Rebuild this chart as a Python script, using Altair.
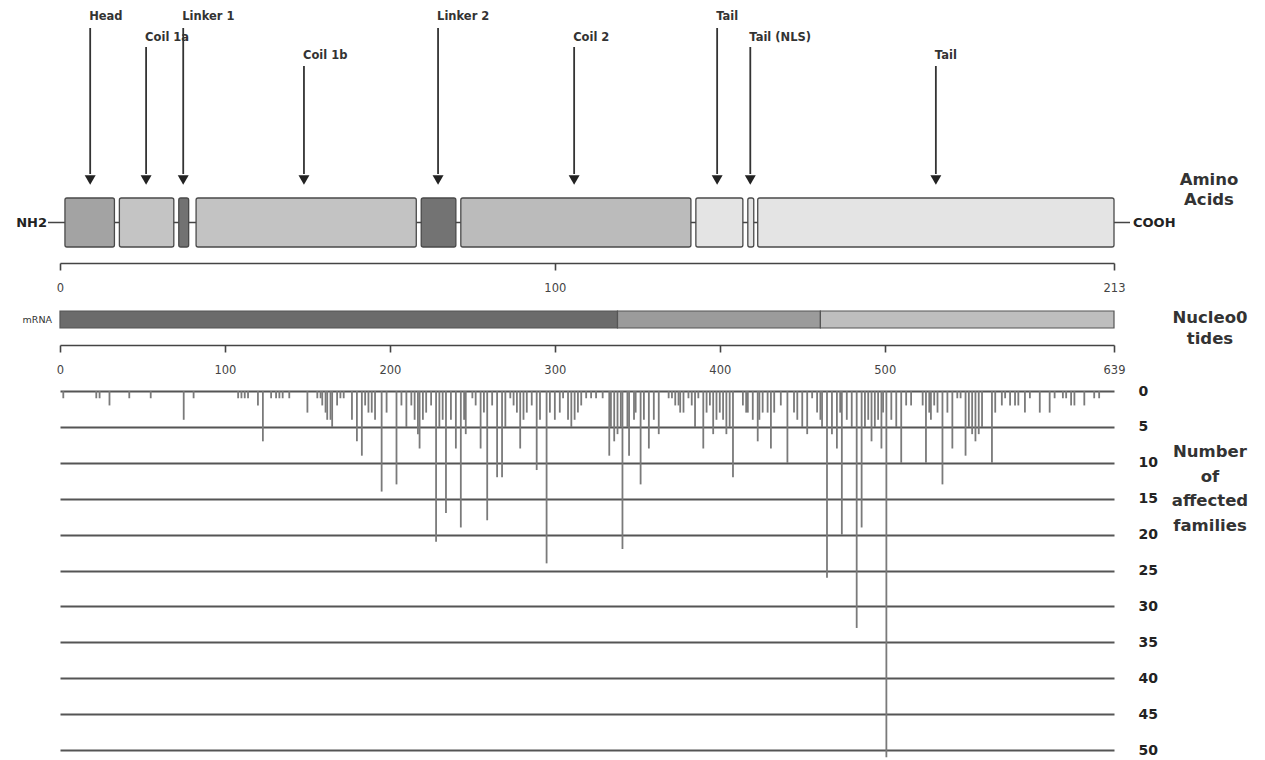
import altair as alt
import pandas as pd

# ---------------- data ----------------
# protein domains in amino-acid coordinates (0-213)
domain_names = ["Head", "Coil 1a", "Linker 1", "Coil 1b", "Linker 2", "Coil 2", "Tail", "Tail (NLS)", "Tail end"]
domain_start = [1, 12, 24, 27.5, 73, 81, 128.5, 139, 141]
domain_end = [11, 23, 26, 72, 80, 127.5, 138, 140.2, 213]
domain_fill = ["#a3a3a3", "#c4c4c4", "#727272", "#c3c3c3", "#737373", "#bbbbbb", "#e4e4e4", "#e4e4e4", "#e4e4e4"]

# arrows pointing at the domains
arrow_labels = ["Head", "Coil 1a", "Linker 1", "Coil 1b", "Linker 2", "Coil 2", "Tail", "Tail (NLS)", "Tail"]
arrow_pos = [6.1, 17.4, 24.9, 49.3, 76.4, 103.9, 132.8, 139.5, 177.0]
arrow_row = [1, 2, 1, 3, 1, 2, 1, 2, 3]

aa_ticks = [0, 100, 213]
nt_ticks = [0, 100, 200, 300, 400, 500, 639]
count_ticks = [0, 5, 10, 15, 20, 25, 30, 35, 40, 45, 50]

# mRNA segments in nucleotide coordinates (0-639)
mrna_start = [0, 338, 461]
mrna_end = [338, 461, 639]
mrna_fill = ["#6b6b6b", "#9b9b9b", "#bebebe"]

# number of affected families per nucleotide position
mut_pos = [2, 22, 24, 30, 42, 55, 75, 81, 108, 110, 112, 114, 120, 123, 128, 131, 133, 135, 139,
           150, 156, 158, 159, 161, 162, 164, 165, 168, 170, 172, 177, 180, 183, 185, 187, 189, 191,
           195, 198, 204, 207, 210, 213, 215, 217, 218, 220, 222, 225, 228, 230, 232, 234, 237, 240,
           243, 245, 246, 250, 252, 255, 257, 259, 262, 265, 268, 270, 273, 275, 277, 279, 281, 283,
           286, 289, 291, 295, 297, 300, 303, 305, 308, 310, 312, 314, 316, 319, 322, 325, 329,
           333, 334, 336, 338, 340, 341, 344, 345, 348, 349, 352, 354, 357, 360, 363,
           369, 371, 373, 375, 376, 378, 381, 383, 385, 387, 390, 392, 394, 396, 398, 400, 402, 404,
           406, 408, 414, 416, 417, 420, 423, 424, 426, 429, 431, 433, 437, 441, 445, 447, 450, 453,
           456, 459, 461, 462, 465, 468, 471, 473, 474, 477, 480, 483, 486, 488, 490, 492, 494, 496,
           498, 499, 501, 504, 507, 510, 513, 516, 523, 525, 527, 528, 530, 532, 535, 538, 541, 544,
           546, 549, 551, 553, 555, 557, 559, 565, 567, 571, 573, 576, 579, 581, 585, 588, 594, 600,
           603, 608, 610, 613, 615, 621, 627, 630]
mut_count = [1, 1, 1, 2, 1, 1, 4, 1, 1, 1, 1, 1, 2, 7, 1, 1, 1, 1, 1,
             3, 1, 1, 2, 3, 4, 4, 5, 2, 1, 1, 4, 7, 9, 2, 3, 3, 4,
             14, 3, 13, 2, 5, 2, 4, 6, 8, 4, 3, 2, 21, 5, 4, 17, 4, 8,
             19, 4, 6, 1, 2, 8, 3, 18, 2, 12, 12, 5, 1, 2, 3, 8, 4, 3,
             2, 11, 4, 24, 3, 4, 3, 1, 4, 5, 4, 3, 2, 1, 1, 1, 1,
             9, 5, 7, 6, 5, 22, 5, 9, 4, 3, 13, 4, 8, 4, 6,
             1, 1, 2, 2, 3, 3, 1, 2, 5, 1, 8, 3, 2, 6, 4, 3, 4, 6,
             5, 12, 2, 3, 3, 4, 7, 4, 3, 3, 8, 3, 2, 10, 3, 4, 5, 6,
             1, 3, 4, 5, 26, 6, 8, 3, 20, 4, 5, 33, 19, 5, 4, 7, 5, 4,
             8, 3, 51, 4, 5, 10, 2, 2, 2, 10, 3, 4, 2, 3, 13, 3, 8, 1,
             1, 9, 5, 6, 7, 6, 5, 10, 3, 2, 1, 2, 2, 2, 3, 1, 3, 3,
             1, 1, 1, 2, 2, 2, 1, 1]

# ---------------- layout (vertical placement inside each panel) ----------------
P1_H, P2_H, P3_H = 255, 51, 374
ROW_LABEL = {1: 9, 2: 30, 3: 48}
ROW_TOP = {1: 20, 2: 39, 3: 58}
ARROW_END, TIP_Y = 166, 172
BOX_TOP, BOX_BOT, BOX_MID = 190, 239, 214.5
W = 1054
FONT = "DejaVu Sans"

aa_scale = alt.Scale(domain=[0, 213], nice=False, zero=False)
nt_scale = alt.Scale(domain=[0, 639], nice=False, zero=False)
p1_y = alt.Scale(domain=[0, P1_H], reverse=True, nice=False, zero=False)
p2_y = alt.Scale(domain=[0, P2_H], reverse=True, nice=False, zero=False)

x_axis_style = dict(domainColor="#444", domainWidth=1.6, tickColor="#444", tickWidth=1.6,
                    tickSize=7, labelFontSize=11.5, labelColor="#444", labelFont=FONT,
                    labelPadding=12, labelFlush=False, grid=False, title=None)

# ---------------- panel 1: protein ----------------
dom_df = pd.DataFrame({"name": domain_names, "x": domain_start, "x2": domain_end, "fill": domain_fill,
                       "y": BOX_TOP, "y2": BOX_BOT})
arr_df = pd.DataFrame({"label": arrow_labels, "x": arrow_pos, "row": arrow_row})
arr_df["ly"] = arr_df["row"].map(ROW_LABEL)
arr_df["top"] = arr_df["row"].map(ROW_TOP)
arr_df["end"] = ARROW_END
arr_df["tip"] = TIP_Y
back_df = pd.DataFrame({"x": [0], "x2": [213], "y": [BOX_MID]})

backbone = alt.Chart(back_df).mark_rule(color="#444", strokeWidth=1.3, xOffset=-12, x2Offset=16).encode(
    x=alt.X("x:Q", scale=aa_scale, axis=alt.Axis(values=aa_ticks, **x_axis_style)),
    x2="x2:Q",
    y=alt.Y("y:Q", scale=p1_y, axis=None),
)
boxes = alt.Chart(dom_df).mark_rect(stroke="#4a4a4a", strokeWidth=1.3, cornerRadius=2).encode(
    x=alt.X("x:Q", scale=aa_scale, title=None),
    x2="x2:Q",
    y=alt.Y("y:Q", scale=p1_y, axis=None),
    y2="y2:Q",
    fill=alt.Fill("fill:N", scale=None),
)
arrow_lines = alt.Chart(arr_df).mark_rule(color="#333", strokeWidth=1.8).encode(
    x=alt.X("x:Q", scale=aa_scale, title=None),
    y=alt.Y("top:Q", scale=p1_y, axis=None),
    y2="end:Q",
)
arrow_tips = alt.Chart(arr_df).mark_point(shape="triangle-down", filled=True, size=120,
                                          color="#222", opacity=1).encode(
    x=alt.X("x:Q", scale=aa_scale, title=None),
    y=alt.Y("tip:Q", scale=p1_y, axis=None),
)
arrow_text = alt.Chart(arr_df).mark_text(align="left", baseline="middle", dx=-1, font=FONT,
                                         fontSize=11.5, fontWeight="bold", color="#333").encode(
    x=alt.X("x:Q", scale=aa_scale, title=None),
    y=alt.Y("ly:Q", scale=p1_y, axis=None),
    text="label:N",
)
ends_df = pd.DataFrame({"x": [0, 213], "y": [BOX_MID, BOX_MID], "t": ["NH2", "COOH"]})
nh2 = alt.Chart(ends_df[ends_df.t == "NH2"]).mark_text(align="right", baseline="middle", dx=-13,
                                                       font=FONT, fontSize=13, fontWeight="bold",
                                                       color="#222").encode(
    x=alt.X("x:Q", scale=aa_scale, title=None), y=alt.Y("y:Q", scale=p1_y, axis=None), text="t:N")
cooh = alt.Chart(ends_df[ends_df.t == "COOH"]).mark_text(align="left", baseline="middle", dx=19,
                                                         font=FONT, fontSize=13, fontWeight="bold",
                                                         color="#222").encode(
    x=alt.X("x:Q", scale=aa_scale, title=None), y=alt.Y("y:Q", scale=p1_y, axis=None), text="t:N")
aa_title = alt.Chart(pd.DataFrame({"x": [213], "y": [172], "t": ["Amino\nAcids"]})).mark_text(
    align="center", baseline="middle", dx=95, lineBreak="\n", lineHeight=20, font=FONT,
    fontSize=16.5, fontWeight="bold", color="#333").encode(
    x=alt.X("x:Q", scale=aa_scale, title=None), y=alt.Y("y:Q", scale=p1_y, axis=None), text="t:N")

panel1 = alt.layer(backbone, boxes, arrow_lines, arrow_tips, arrow_text, nh2, cooh, aa_title).properties(
    width=W, height=P1_H)

# ---------------- panel 2: mRNA ----------------
mrna_df = pd.DataFrame({"x": mrna_start, "x2": mrna_end, "fill": mrna_fill, "y": 17, "y2": 34})
mrna_bar = alt.Chart(mrna_df).mark_rect(stroke="#555", strokeWidth=1.2).encode(
    x=alt.X("x:Q", scale=nt_scale, axis=alt.Axis(values=nt_ticks, **x_axis_style)),
    x2="x2:Q",
    y=alt.Y("y:Q", scale=p2_y, axis=None),
    y2="y2:Q",
    fill=alt.Fill("fill:N", scale=None),
)
mrna_lab = alt.Chart(pd.DataFrame({"x": [0], "y": [26], "t": ["mRNA"]})).mark_text(
    align="right", baseline="middle", dx=-8, font=FONT, fontSize=9.5, color="#333").encode(
    x=alt.X("x:Q", scale=nt_scale, title=None), y=alt.Y("y:Q", scale=p2_y, axis=None), text="t:N")
nt_title = alt.Chart(pd.DataFrame({"x": [639], "y": [24], "t": ["Nucleo0\ntides"]})).mark_text(
    align="center", baseline="middle", dx=96, lineBreak="\n", lineHeight=21, font=FONT,
    fontSize=16.5, fontWeight="bold", color="#333").encode(
    x=alt.X("x:Q", scale=nt_scale, title=None), y=alt.Y("y:Q", scale=p2_y, axis=None), text="t:N")

panel2 = alt.layer(mrna_bar, mrna_lab, nt_title).properties(width=W, height=P2_H)

# ---------------- panel 3: affected families ----------------
mut_df = pd.DataFrame({"pos": mut_pos, "count": mut_count})
cnt_scale = alt.Scale(domain=[-2.1, 50], reverse=True, nice=False, zero=False)
cnt_axis = alt.Axis(orient="right", values=count_ticks, grid=True,
                    gridColor="#555", gridWidth=2, gridOpacity=1, domain=False, ticks=False,
                    labelFont=FONT, labelFontSize=14, labelFontWeight="bold",
                    labelColor="#222", labelPadding=24, labelAlign="left",
                    labelOverlap=False, title=None)
bars = alt.Chart(mut_df).mark_rule(color="#7a7a7a", strokeWidth=1.8).encode(
    x=alt.X("pos:Q", scale=nt_scale, axis=None),
    y=alt.Y("count:Q", scale=cnt_scale, axis=cnt_axis),
    y2=alt.datum(0),
)
fam_title = alt.Chart(pd.DataFrame({"x": [639], "count": [8.5], "t": ["Number\nof\naffected\nfamilies"]})).mark_text(
    align="center", baseline="middle", dx=96, lineBreak="\n", lineHeight=24.5, font=FONT,
    fontSize=16.5, fontWeight="bold", color="#333").encode(
    x=alt.X("x:Q", scale=nt_scale, axis=None),
    y=alt.Y("count:Q", scale=cnt_scale, axis=cnt_axis),
    text="t:N")

panel3 = alt.layer(bars, fam_title).properties(width=W, height=P3_H)

chart = alt.vconcat(panel1, panel2, panel3, spacing=0).properties(
    padding={"left": 8, "top": 0, "right": 0, "bottom": 0}
).configure_view(stroke=None)

chart.save("out.html", embed_options={"renderer": "svg", "actions": False})
